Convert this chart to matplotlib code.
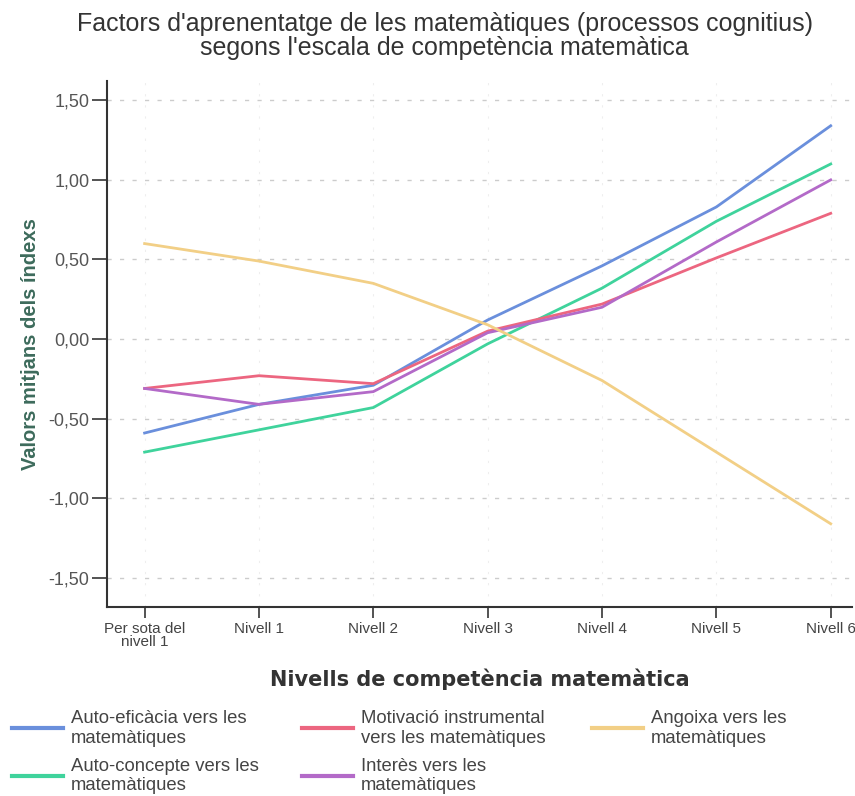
import matplotlib
matplotlib.use("Agg")
import matplotlib.pyplot as plt

plt.rcParams['font.family'] = ['Liberation Sans', 'DejaVu Sans']

categories = ["Per sota del\nnivell 1", "Nivell 1", "Nivell 2", "Nivell 3", "Nivell 4", "Nivell 5", "Nivell 6"]
auto_eficacia = [-0.59, -0.41, -0.29, 0.12, 0.46, 0.83, 1.34]
auto_concepte = [-0.71, -0.57, -0.43, -0.03, 0.32, 0.74, 1.10]
motivacio = [-0.31, -0.23, -0.28, 0.05, 0.22, 0.51, 0.79]
interes = [-0.31, -0.41, -0.33, 0.04, 0.20, 0.61, 1.00]
angoixa = [0.60, 0.49, 0.35, 0.09, -0.26, -0.71, -1.16]
yticks = [-1.5, -1.0, -0.5, 0.0, 0.5, 1.0, 1.5]
ytick_labels = ["-1,50", "-1,00", "-0,50", "0,00", "0,50", "1,00", "1,50"]

series = [
    ("Auto-eficàcia vers les\nmatemàtiques", auto_eficacia, "#6a8fdc"),
    ("Auto-concepte vers les\nmatemàtiques", auto_concepte, "#3fd39c"),
    ("Motivació instrumental\nvers les matemàtiques", motivacio, "#ec6680"),
    ("Interès vers les\nmatemàtiques", interes, "#b36ac8"),
    ("Angoixa vers les\nmatemàtiques", angoixa, "#f2cf86"),
]

fig = plt.figure(figsize=(8.55, 7.96), dpi=100)
ax = fig.add_axes([0.125, 0.238, 0.872, 0.66])
x = list(range(len(categories)))
lines = []
for label, vals, color in series:
    ln, = ax.plot(x, vals, color=color, lw=2.0, label=label, solid_joinstyle='round')
    lines.append(ln)

ax.set_xlim(-0.33, 6.19)
ax.set_ylim(-1.68, 1.62)
ax.set_xticks(x)
ax.set_xticklabels(categories, fontsize=11, color="#444444", linespacing=0.95)
ax.set_yticks(yticks)
ax.set_yticklabels(ytick_labels, fontsize=13, color="#555555")
ax.tick_params(axis='x', direction='out', length=8, width=1.3, color="#444444", pad=3)
ax.tick_params(axis='y', direction='out', length=11, width=1.3, color="#444444", pad=1.5)
ax.grid(axis='y', linestyle=(0, (3, 6)), color="#cccccc", lw=1.0)
ax.grid(axis='x', linestyle=(0, (2, 8)), color="#eeeeee", lw=0.8)
for s in ['top', 'right']:
    ax.spines[s].set_visible(False)
for s in ['left', 'bottom']:
    ax.spines[s].set_color("#333333")
    ax.spines[s].set_linewidth(1.5)

ax.set_ylabel("Valors mitjans dels índexs", fontsize=14.5, fontweight='bold',
              color="#3d6b5c")
ax.yaxis.set_label_coords(-0.09, 0.5)
ax.set_xlabel("Nivells de competència matemàtica", fontsize=15, fontweight='bold',
              color="#333333", labelpad=14, family=['DejaVu Sans'])

fig.text(0.52, 0.985, "Factors d'aprenentatge de les matemàtiques (processos cognitius)\nsegons l'escala de competència matemàtica",
         ha='center', va='top', fontsize=18, color="#333333", linespacing=1.0)

cols = [(12, [0, 1]), (302, [2, 3]), (592, [4])]
for xpix, idx in cols:
    leg = fig.legend([lines[i] for i in idx], [series[i][0] for i in idx],
                     loc='upper left', bbox_to_anchor=(xpix / 855, 1 - 710 / 796),
                     frameon=False, handlelength=2.75, handletextpad=0.45,
                     labelspacing=0.6, borderpad=0, borderaxespad=0,
                     labelcolor="#444444",
                     prop={'family': ['Liberation Sans'], 'size': 13.3})
    for line in leg.get_lines():
        line.set_linewidth(3)

fig.savefig("out.png", dpi=100)
